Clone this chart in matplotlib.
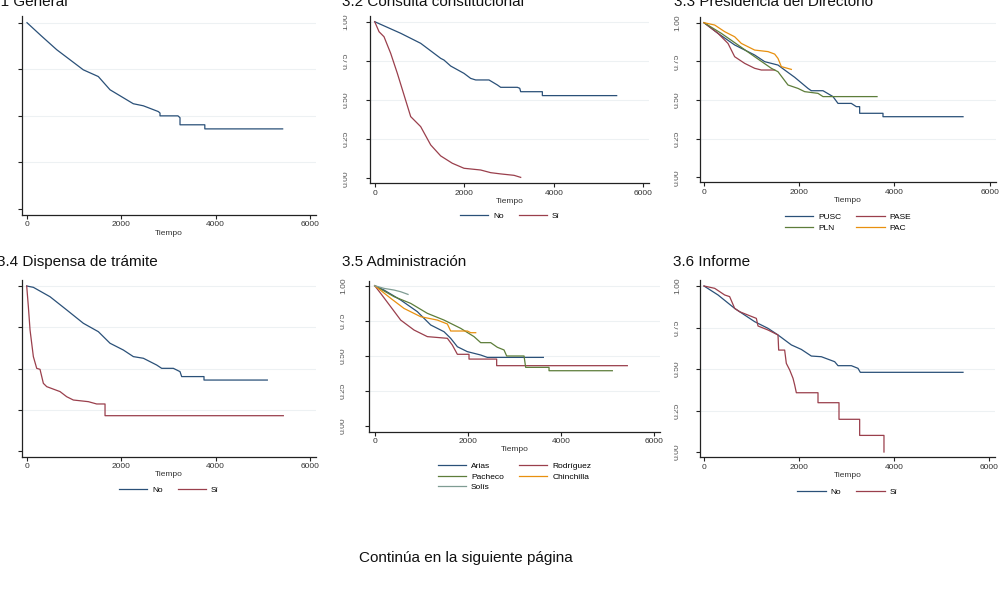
import matplotlib
matplotlib.use("Agg")
import matplotlib.pyplot as plt
from matplotlib.transforms import Bbox, TransformedBbox

plt.rcParams['font.family'] = ['Liberation Sans', 'DejaVu Sans']

W, H = 1002, 616

# --- data (time, survival) ---
gen_t = [0, 300, 630, 1194, 1512, 1760, 2254, 2466, 2784, 2820, 2820, 3200, 3244, 3244, 3770, 3770, 5420]
gen_s = [1.0, 0.93, 0.855, 0.747, 0.711, 0.64, 0.565, 0.554, 0.523, 0.515, 0.5, 0.5, 0.49, 0.452, 0.452, 0.43, 0.43]

cc_no_t = [0, 581, 1027, 1474, 1548, 1697, 1995, 2144, 2256, 2553, 2740, 2814, 3186, 3240, 3261, 3745, 3745, 5405]
cc_no_s = [1.0, 0.926, 0.862, 0.766, 0.755, 0.717, 0.67, 0.638, 0.628, 0.628, 0.596, 0.581, 0.581, 0.575, 0.553, 0.553, 0.528, 0.528]
cc_si_t = [0, 97, 208, 357, 506, 655, 804, 1027, 1251, 1474, 1734, 1995, 2367, 2591, 2814, 3112, 3261]
cc_si_s = [1.0, 0.936, 0.904, 0.798, 0.67, 0.532, 0.394, 0.33, 0.213, 0.143, 0.096, 0.064, 0.053, 0.036, 0.028, 0.019, 0.006]

pusc_t = [0, 294, 644, 1064, 1274, 1554, 1694, 1904, 2184, 2254, 2499, 2709, 2814, 3094, 3199, 3269, 3269, 3759, 3759, 5440]
pusc_s = [1.0, 0.931, 0.856, 0.791, 0.748, 0.726, 0.694, 0.647, 0.575, 0.56, 0.56, 0.522, 0.478, 0.478, 0.457, 0.457, 0.414, 0.414, 0.392, 0.392]
pase_t = [0, 294, 504, 644, 854, 1064, 1204, 1484]
pase_s = [1.0, 0.931, 0.866, 0.78, 0.737, 0.705, 0.694, 0.694]
pln_t = [0, 364, 714, 1064, 1414, 1554, 1764, 1974, 2114, 2394, 2499, 3634]
pln_s = [1.0, 0.931, 0.856, 0.78, 0.705, 0.683, 0.597, 0.575, 0.554, 0.543, 0.522, 0.522]
pac_t = [0, 224, 434, 644, 784, 1064, 1344, 1484, 1554, 1624, 1834]
pac_s = [1.0, 0.985, 0.942, 0.909, 0.866, 0.823, 0.813, 0.797, 0.769, 0.716, 0.698]

dt_no_t = [0, 141, 494, 847, 1200, 1518, 1765, 2047, 2259, 2471, 2753, 2859, 3106, 3247, 3282, 3755, 3755, 5096]
dt_no_s = [1.0, 0.992, 0.935, 0.855, 0.774, 0.723, 0.653, 0.612, 0.572, 0.562, 0.521, 0.501, 0.501, 0.481, 0.451, 0.451, 0.43, 0.43]
dt_si_t = [0, 35, 71, 141, 212, 282, 353, 424, 706, 847, 988, 1306, 1482, 1659, 1659, 5435]
dt_si_s = [1.0, 0.875, 0.733, 0.572, 0.501, 0.495, 0.41, 0.39, 0.36, 0.329, 0.309, 0.299, 0.285, 0.285, 0.214, 0.214]

arias_t = [0, 200, 558, 916, 1203, 1489, 1632, 1776, 1990, 2277, 2420, 3623]
arias_s = [1.0, 0.969, 0.898, 0.815, 0.72, 0.672, 0.625, 0.565, 0.53, 0.506, 0.489, 0.489]
rod_t = [0, 129, 344, 558, 845, 1131, 1561, 1668, 1776, 2026, 2026, 2620, 2620, 5427]
rod_s = [1.0, 0.945, 0.85, 0.755, 0.684, 0.637, 0.625, 0.577, 0.511, 0.511, 0.477, 0.477, 0.43, 0.43]
pach_t = [0, 415, 773, 1131, 1489, 1847, 2134, 2277, 2492, 2635, 2778, 2835, 3208, 3243, 3745, 3745, 5105]
pach_s = [1.0, 0.922, 0.874, 0.803, 0.755, 0.696, 0.637, 0.594, 0.594, 0.561, 0.542, 0.499, 0.499, 0.418, 0.418, 0.394, 0.394]
chin_t = [0, 344, 630, 988, 1346, 1561, 1632, 1990, 2062, 2170]
chin_s = [1.0, 0.91, 0.838, 0.779, 0.755, 0.727, 0.677, 0.677, 0.665, 0.665]
solis_t = [0, 200, 415, 558, 716]
solis_s = [1.0, 0.981, 0.969, 0.957, 0.938]

inf_no_t = [0, 295, 646, 1067, 1347, 1558, 1839, 2049, 2260, 2470, 2751, 2821, 3102, 3242, 3291, 5453]
inf_no_s = [1.0, 0.946, 0.865, 0.785, 0.745, 0.705, 0.645, 0.618, 0.578, 0.574, 0.544, 0.52, 0.52, 0.504, 0.48, 0.48]
inf_si_t = [0, 225, 435, 540, 646, 751, 926, 1102, 1137, 1347, 1558, 1572, 1698, 1733, 1804, 1874, 1909, 1944,
            2400, 2400, 2842, 2842, 3277, 3277, 3789, 3789]
inf_si_s = [1.0, 0.986, 0.946, 0.936, 0.865, 0.845, 0.825, 0.805, 0.759, 0.735, 0.705, 0.614, 0.614, 0.534, 0.494,
            0.444, 0.404, 0.357, 0.357, 0.297, 0.297, 0.197, 0.197, 0.1, 0.1, 0.0]

xticks = [0, 2000, 4000, 6000]
yticks = [0, 0.25, 0.5, 0.75, 1.0]
ytick_labels = ["0.00", "0.25", "0.50", "0.75", "1.00"]

navy, maroon, green, orange, teal = "#2a5078", "#9a3f4c", "#5d7d3a", "#e8900f", "#7f9c93"

fig = plt.figure(figsize=(W / 100, H / 100), dpi=100)


def make_axes(spine, x0, x6, y1, y0, bottom, ylab_x=None):
    # pixel geometry measured from the top-left corner of the picture
    ppx = (x6 - x0) / 6000
    ppy = y0 - y1
    xl = (spine - x0) / ppx
    xr = 6000 + 6 / ppx
    yb = -(bottom - y0) / ppy
    yt = 1.035
    right = x0 + xr * ppx
    top = y0 - yt * ppy
    ax = fig.add_axes([spine / W, 1 - bottom / H, (right - spine) / W, (bottom - top) / H])
    ax.set_xlim(xl, xr)
    ax.set_ylim(yb, yt)
    for s in ["top", "right"]:
        ax.spines[s].set_visible(False)
    for s in ["left", "bottom"]:
        ax.spines[s].set_color("#222222")
        ax.spines[s].set_linewidth(0.9)
    ax.set_xticks(xticks)
    ax.set_yticks(yticks)
    ax.set_yticklabels([])
    ax.tick_params(length=3, width=0.8, color="#222222", labelsize=6, labelcolor="#333333", pad=1.5)
    for y in yticks[1:]:
        ax.axhline(y, color="#edf1f3", lw=0.8, zorder=0)
    ax.set_xlabel("Tiempo", fontsize=6, color="#333333", labelpad=1)
    if ylab_x is not None:
        # the panel image was cropped on the left: the label tops are shaved off
        clip = TransformedBbox(Bbox([[(ylab_x - 3.2) / W, 0], [1, 1]]), fig.transFigure)
        for y, lab in zip(yticks, ytick_labels):
            t = fig.text(ylab_x / W, 1 - (y0 - y * ppy) / H, lab, rotation=90, fontsize=6,
                         color="#555555", ha="center", va="center")
            t.set_clip_on(True)
            t.set_clip_box(clip)
    return ax, (spine + right) / 2


def add_legend(ax, cx, top, ncol, handles=None, labels=None):
    kw = dict(loc="upper center", bbox_to_anchor=(cx / W, 1 - top / H), bbox_transform=fig.transFigure,
              ncol=ncol, frameon=False, fontsize=6, handlelength=3.4, handletextpad=0.6,
              columnspacing=1.8, labelspacing=0.3, borderpad=0, borderaxespad=0)
    if handles is None:
        ax.legend(**kw)
    else:
        ax.legend(handles, labels, **kw)


lw = 0.9

# 3.1 General
ax1, c1 = make_axes(22, 27, 310, 22.7, 209, 215)
ax1.plot(gen_t, gen_s, color=navy, lw=lw)

# 3.2 Consulta constitucional
ax2, c2 = make_axes(370, 374.7, 643.3, 21.7, 178.3, 183.3, ylab_x=346)
ax2.plot(cc_no_t, cc_no_s, color=navy, lw=lw, label="No")
ax2.plot(cc_si_t, cc_si_s, color=maroon, lw=lw, label="Sí")
add_legend(ax2, c2, 212, 2)

# 3.3 Presidencia del Directorio
ax3, c3 = make_axes(700.3, 704, 989.7, 22.7, 177.3, 182.3, ylab_x=677.5)
h_pusc, = ax3.plot(pusc_t, pusc_s, color=navy, lw=lw)
h_pase, = ax3.plot(pase_t, pase_s, color=maroon, lw=lw)
h_pln, = ax3.plot(pln_t, pln_s, color=green, lw=lw)
h_pac, = ax3.plot(pac_t, pac_s, color=orange, lw=lw)
add_legend(ax3, c3, 213.5, 2, [h_pusc, h_pln, h_pase, h_pac], ["PUSC", "PLN", "PASE", "PAC"])

# 3.4 Dispensa de trámite
ax4, c4 = make_axes(21.7, 26.7, 310, 286, 451, 456.7)
ax4.plot(dt_no_t, dt_no_s, color=navy, lw=lw, label="No")
ax4.plot(dt_si_t, dt_si_s, color=maroon, lw=lw, label="Sí")
add_legend(ax4, c4, 486.5, 2)

# 3.5 Administración
ax5, c5 = make_axes(369, 374.7, 654, 285.7, 426, 431.7, ylab_x=343.5)
h_ar, = ax5.plot(arias_t, arias_s, color=navy, lw=lw)
h_ro, = ax5.plot(rod_t, rod_s, color=maroon, lw=lw)
h_pa, = ax5.plot(pach_t, pach_s, color=green, lw=lw)
h_ch, = ax5.plot(chin_t, chin_s, color=orange, lw=lw)
h_so, = ax5.plot(solis_t, solis_s, color=teal, lw=lw)
add_legend(ax5, c5, 462.5, 2, [h_ar, h_pa, h_so, h_ro, h_ch],
           ["Arias", "Pacheco", "Solís", "Rodríguez", "Chinchilla"])

# 3.6 Informe
ax6, c6 = make_axes(699.7, 704, 989, 286, 452, 457.3, ylab_x=677.5)
ax6.plot(inf_no_t, inf_no_s, color=navy, lw=lw, label="No")
ax6.plot(inf_si_t, inf_si_s, color=maroon, lw=lw, label="Sí")
add_legend(ax6, c6, 488, 2)

# panel titles (top row is cut by the page edge)
titles = [("3.1 General", -12, 5.5), ("3.2 Consulta constitucional", 342, 5.5),
          ("3.3 Presidencia del Directorio", 674, 5.5), ("3.4 Dispensa de trámite", -3, 266),
          ("3.5 Administración", 342, 266), ("3.6 Informe", 673, 266)]
for txt, x, y in titles:
    fig.text(x / W, 1 - y / H, txt, fontsize=11, color="#111111", ha="left", va="baseline")

fig.text(359 / W, 1 - 562 / H, "Continúa en la siguiente página", fontsize=11, color="#111111",
         ha="left", va="baseline")

fig.savefig("out.png", dpi=100)
